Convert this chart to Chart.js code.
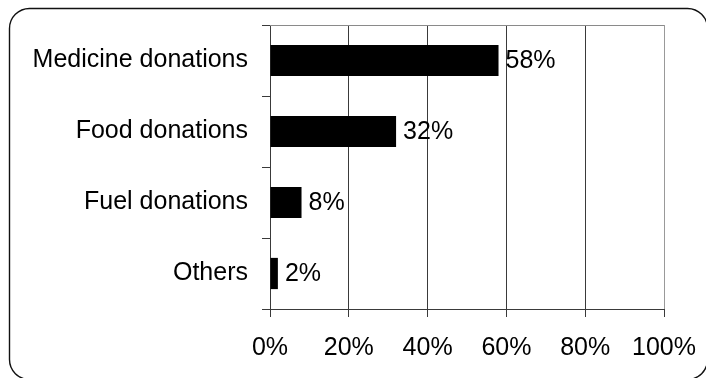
<!DOCTYPE html>
<html>
<head>
<meta charset="utf-8">
<script src="https://cdn.jsdelivr.net/npm/chart.js@4.4.1/dist/chart.umd.min.js"></script>
<style>
  html, body { margin: 0; padding: 0; background: #ffffff; }
  #wrap { position: relative; width: 706px; height: 378px; }
</style>
</head>
<body>
<div id="wrap"><canvas id="chart" width="706" height="378"></canvas></div>
<script>
// Share of donations by type (percent)
const categories = ['Medicine donations', 'Food donations', 'Fuel donations', 'Others'];
const shares = [58, 32, 8, 2];
const xTicks = [0, 20, 40, 60, 80, 100];

const FONT = { family: '"Liberation Sans", Arial, sans-serif', size: 25 };

// Keep the plot box where the layout padding puts it, regardless of label overhang
function clearScalePadding(scale) {
  scale.paddingTop = 0;
  scale.paddingBottom = 0;
  scale.paddingLeft = 0;
  scale.paddingRight = 0;
}

// Rounded frame around the whole figure plus the top edge of the plot box
const framePlugin = {
  id: 'frame',
  beforeDraw(chart) {
    const c = chart.ctx;
    const x = 9.5, y = 8.5, w = 698, h = 371, r = 20;
    c.save();
    c.strokeStyle = '#111';
    c.lineWidth = 1.4;
    c.beginPath();
    c.moveTo(x + r, y);
    c.lineTo(x + w - r, y);
    c.arcTo(x + w, y, x + w, y + r, r);
    c.lineTo(x + w, y + h - r);
    c.arcTo(x + w, y + h, x + w - r, y + h, r);
    c.lineTo(x + r, y + h);
    c.arcTo(x, y + h, x, y + h - r, r);
    c.lineTo(x, y + r);
    c.arcTo(x, y, x + r, y, r);
    c.closePath();
    c.stroke();
    c.restore();
  },
  afterDatasetsDraw(chart) {
    const a = chart.chartArea;
    const c = chart.ctx;
    c.save();
    c.strokeStyle = '#8a8a8a';
    c.lineWidth = 1;
    c.beginPath();
    c.moveTo(a.left, Math.round(a.top) + 0.5);
    c.lineTo(a.right, Math.round(a.top) + 0.5);
    c.stroke();
    c.restore();
  }
};

// Percentage labels at the end of each bar
const valueLabels = {
  id: 'valueLabels',
  afterDatasetsDraw(chart) {
    const c = chart.ctx;
    const meta = chart.getDatasetMeta(0);
    const data = chart.data.datasets[0].data;
    c.save();
    c.font = FONT.size + 'px ' + FONT.family;
    c.fillStyle = '#000';
    c.textAlign = 'left';
    c.textBaseline = 'middle';
    meta.data.forEach((bar, i) => {
      c.fillText(data[i] + '%', bar.x + 7, bar.y + 1);
    });
    c.restore();
  }
};

new Chart(document.getElementById('chart'), {
  type: 'bar',
  data: {
    labels: categories,
    datasets: [{
      data: shares,
      backgroundColor: '#000000',
      borderWidth: 0,
      barPercentage: 0.44,
      categoryPercentage: 1
    }]
  },
  options: {
    indexAxis: 'y',
    responsive: false,
    animation: false,
    devicePixelRatio: 1,
    layout: { padding: { left: 0, right: 42, top: 25, bottom: 0 } },
    plugins: {
      legend: { display: false },
      tooltip: { enabled: false }
    },
    scales: {
      x: {
        min: 0,
        max: 100,
        afterBuildTicks(scale) {
          scale.ticks = xTicks.map(v => ({ value: v }));
        },
        afterFit(scale) { scale.height = 69; clearScalePadding(scale); },
        grid: {
          color: ctx => (ctx.tick && ctx.tick.value === 100) ? '#999999' : '#3a3a3a',
          tickColor: '#3a3a3a',
          tickLength: 8,
          lineWidth: 1
        },
        border: { display: true, color: '#3a3a3a', width: 1 },
        ticks: {
          color: '#000',
          font: FONT,
          padding: 16,
          maxRotation: 0,
          callback: v => v + '%'
        }
      },
      y: {
        afterFit(scale) { scale.width = 270; clearScalePadding(scale); },
        grid: {
          drawOnChartArea: false,
          drawTicks: true,
          tickLength: 8,
          tickColor: '#3a3a3a',
          offset: true
        },
        border: { display: true, color: '#3a3a3a', width: 1 },
        ticks: {
          color: '#000',
          font: FONT,
          padding: 14
        }
      }
    }
  },
  plugins: [framePlugin, valueLabels]
});
</script>
</body>
</html>
